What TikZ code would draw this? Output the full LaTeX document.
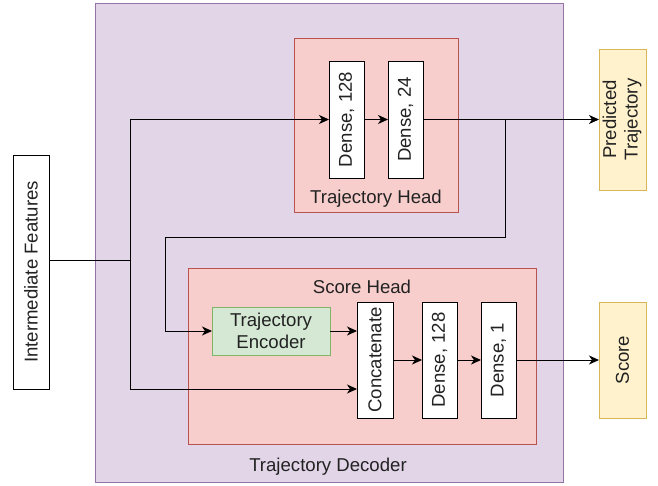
\documentclass[tikz,border=0pt]{standalone}
\usepackage{fontspec}
\setmainfont{Liberation Sans}
\usetikzlibrary{arrows.meta}
\definecolor{decfill}{HTML}{E1D5E7}
\definecolor{decdraw}{HTML}{9673A6}
\definecolor{redfill}{HTML}{F8CECC}
\definecolor{reddraw}{HTML}{B85450}
\definecolor{grnfill}{HTML}{D5E8D4}
\definecolor{grndraw}{HTML}{82B366}
\definecolor{yelfill}{HTML}{FFF2CC}
\definecolor{yeldraw}{HTML}{D6B656}
\definecolor{txt}{HTML}{222222}
\tikzset{
  every node/.style={font=\fontsize{18.6}{21.5}\selectfont, text=txt, inner sep=0pt, outer sep=0pt},
  wbox/.style={draw=black, fill=white, line width=1pt},
  ybox/.style={draw=yeldraw, fill=yelfill, line width=1pt},
  gbox/.style={draw=grndraw, fill=grnfill, line width=1pt, align=center},
  container/.style={line width=1pt},
  conn/.style={line width=1pt, draw=black},
  arr/.style={conn, -{Stealth[length=10pt, width=9pt, inset=3pt]}},
}
\begin{document}
\begin{tikzpicture}[x=1pt, y=-1pt]
\useasboundingbox (0,0) rectangle (658,485);
% containers
\draw[container, draw=decdraw, fill=decfill] (95,3) rectangle (563,482);
\draw[container, draw=reddraw, fill=redfill] (294,38) rectangle (458,212);
\draw[container, draw=reddraw, fill=redfill] (188,268) rectangle (536,444);
\node (lblhead) at (376,199) {Trajectory Head};
\node (lblscore) at (362,287) {Score Head};
\node (lbldec) at (328,467) {Trajectory Decoder};
% nodes
\node[wbox, minimum width=36pt, minimum height=234pt] (if) at (31,272) {\rotatebox{90}{Intermediate Features}};
\node[wbox, minimum width=35pt, minimum height=117pt] (d1) at (346.5,119.5) {\rotatebox{90}{Dense, 128}};
\node[wbox, minimum width=35pt, minimum height=117pt] (d2) at (405.5,119.5) {\rotatebox{90}{Dense, 24}};
\node[ybox, minimum width=47pt, minimum height=141pt] (pt) at (622.5,119.5) {\rotatebox{90}{\begin{tabular}{@{}c@{}}Predicted\\Trajectory\end{tabular}}};
\node[gbox, minimum width=118pt, minimum height=48pt] (enc) at (271,331) {Trajectory\\Encoder};
\node[wbox, minimum width=36pt, minimum height=116pt] (cat) at (375,360) {\rotatebox{90}{Concatenate}};
\node[wbox, minimum width=35pt, minimum height=116pt] (d3) at (439.5,360) {\rotatebox{90}{Dense, 128}};
\node[wbox, minimum width=35pt, minimum height=116pt] (d4) at (498.5,360) {\rotatebox{90}{Dense, 1}};
\node[ybox, minimum width=47pt, minimum height=116pt] (sc) at (622.5,360) {\rotatebox{90}{Score}};
% junction coordinates
\coordinate (j) at (130,260);
\coordinate (cin) at (357,389);
\coordinate (s) at (505,119.5);
\coordinate (l1) at (165,237);
% connectors
\draw[conn] (if.east |- j) -- (j);
\draw[arr] (j) |- (d1.west);
\draw[arr] (j) |- (cin);
\draw[arr] (d1) -- (d2);
\draw[arr] (d2.east) -- (pt.west);
\draw[conn] (s) |- (l1);
\draw[arr] (l1) |- (enc.west);
\draw[arr] (enc.east) -- (enc.east -| cat.west);
\draw[arr] (cat) -- (d3);
\draw[arr] (d3) -- (d4);
\draw[arr] (d4.east) -- (sc.west);
\end{tikzpicture}
\end{document}
